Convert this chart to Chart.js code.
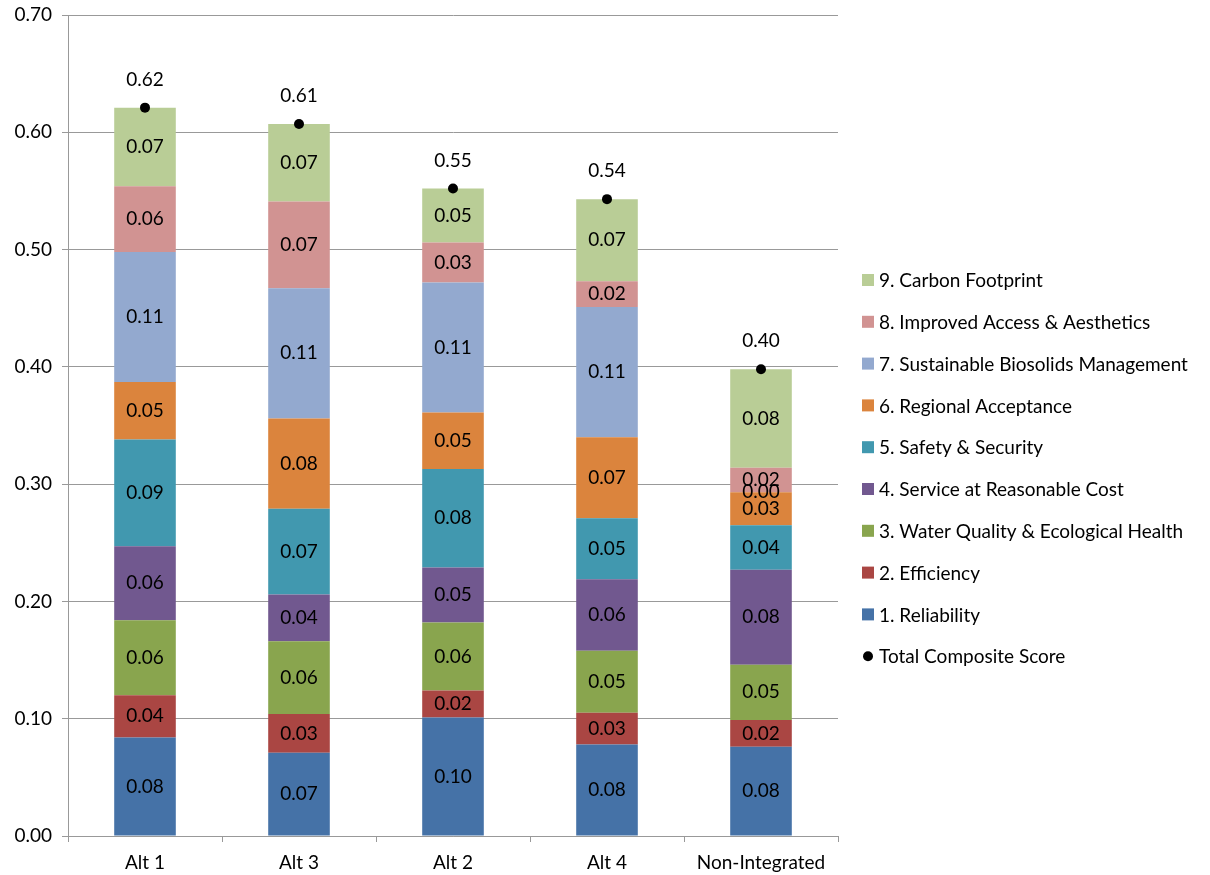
<!DOCTYPE html>
<html>
<head>
<meta charset="utf-8">
<script src="https://cdn.jsdelivr.net/npm/chart.js@4"></script>
<style>
  body { margin: 0; background: #fff; }
  canvas { display: block; }
</style>
</head>
<body>
<canvas id="scoreChart" width="1210" height="875"></canvas>
<script>
// categories and values
const alternatives = ["Alt 1", "Alt 3", "Alt 2", "Alt 4", "Non-Integrated"];

const reliability = [0.084, 0.071, 0.101, 0.078, 0.076];
const efficiency = [0.036, 0.033, 0.023, 0.027, 0.023];
const waterQuality = [0.064, 0.062, 0.058, 0.053, 0.047];
const serviceCost = [0.063, 0.040, 0.047, 0.061, 0.081];
const safetySecurity = [0.091, 0.073, 0.084, 0.052, 0.038];
const regionalAcceptance = [0.049, 0.077, 0.048, 0.069, 0.028];
const biosolids = [0.111, 0.111, 0.111, 0.111, 0.000];
const accessAesthetics = [0.056, 0.074, 0.034, 0.022, 0.021];
const carbonFootprint = [0.067, 0.066, 0.046, 0.070, 0.084];
const totalScore = [0.621, 0.607, 0.552, 0.543, 0.398];

const yTicks = [0, 0.1, 0.2, 0.3, 0.4, 0.5, 0.6, 0.7];

const FONT = "Lato, 'Open Sans', sans-serif";
const FONT_SIZE = 19;

function barSet(label, data, color) {
    return {
        type: "bar",
        label: label,
        data: data,
        backgroundColor: color,
        borderWidth: 0,
        stack: "criteria",
        order: 1,
        barPercentage: 0.4,
        categoryPercentage: 1.0
    };
}

// value labels inside bars + above the composite dots
const valueLabels = {
    id: "valueLabels",
    afterDatasetsDraw(chart) {
        const ctx = chart.ctx;
        ctx.save();
        ctx.font = FONT_SIZE + "px " + FONT;
        ctx.fillStyle = "#000";
        ctx.textAlign = "center";
        ctx.textBaseline = "middle";
        chart.data.datasets.forEach((ds, i) => {
            const meta = chart.getDatasetMeta(i);
            meta.data.forEach((el, j) => {
                const txt = ds.data[j].toFixed(2);
                if (ds.type === "bar") {
                    ctx.fillText(txt, el.x, (el.y + el.base) / 2);
                } else {
                    ctx.fillText(txt, el.x, el.y - 28);
                }
            });
        });
        ctx.restore();
    }
};

// legend drawn on the right, Excel style
const sideLegend = {
    id: "sideLegend",
    afterDraw(chart) {
        const ctx = chart.ctx;
        const x = chart.chartArea.right + 24;
        let y = 280;
        ctx.save();
        ctx.font = FONT_SIZE + "px " + FONT;
        ctx.textBaseline = "middle";
        ctx.textAlign = "left";
        const items = chart.data.datasets.filter(d => d.type === "bar").slice().reverse();
        items.forEach(d => {
            ctx.fillStyle = d.backgroundColor;
            ctx.fillRect(x, y - 6, 12, 12);
            ctx.fillStyle = "#000";
            ctx.fillText(d.label, x + 17, y + 1);
            y += 41.8;
        });
        const tot = chart.data.datasets.find(d => d.type === "line");
        ctx.fillStyle = "#000";
        ctx.beginPath();
        ctx.arc(x + 6, y, 5, 0, Math.PI * 2);
        ctx.fill();
        ctx.fillText(tot.label, x + 17, y + 1);
        ctx.restore();
    }
};

new Chart(document.getElementById("scoreChart"), {
    data: {
        labels: alternatives,
        datasets: [
            {
                type: "line",
                label: "Total Composite Score",
                data: totalScore,
                showLine: false,
                pointRadius: 5,
                pointBackgroundColor: "#000",
                pointBorderWidth: 0,
                stack: "total",
                order: 0
            },
            barSet("1. Reliability", reliability, "#4572A7"),
            barSet("2. Efficiency", efficiency, "#AA4643"),
            barSet("3. Water Quality & Ecological Health", waterQuality, "#89A54E"),
            barSet("4. Service at Reasonable Cost", serviceCost, "#71588F"),
            barSet("5. Safety & Security", safetySecurity, "#4198AF"),
            barSet("6. Regional Acceptance", regionalAcceptance, "#DB843D"),
            barSet("7. Sustainable Biosolids Management", biosolids, "#93A9CF"),
            barSet("8. Improved Access & Aesthetics", accessAesthetics, "#D19392"),
            barSet("9. Carbon Footprint", carbonFootprint, "#B9CD96")
        ]
    },
    options: {
        responsive: false,
        animation: false,
        layout: { padding: { left: 0, right: 372, top: 15, bottom: 0 } },
        plugins: {
            legend: { display: false },
            tooltip: { enabled: false }
        },
        scales: {
            x: {
                stacked: true,
                grid: {
                    offset: true,
                    drawOnChartArea: false,
                    drawTicks: true,
                    tickLength: 6,
                    color: "#999"
                },
                border: { color: "#999" },
                ticks: {
                    color: "#000",
                    padding: 9,
                    font: { family: FONT, size: FONT_SIZE }
                },
                afterFit: s => { s.height = 39; }
            },
            y: {
                stacked: true,
                min: 0,
                max: 0.7,
                afterBuildTicks: s => { s.ticks = yTicks.map(v => ({ value: v })); },
                grid: { color: "#999", tickLength: 6 },
                border: { color: "#999" },
                ticks: {
                    color: "#000",
                    padding: 10,
                    font: { family: FONT, size: FONT_SIZE }
                    ,
                    callback: v => Number(v).toFixed(2)
                },
                afterFit: s => { s.width = 68; s.paddingTop = 0; }
            }
        }
    },
    plugins: [valueLabels, sideLegend]
});
</script>
</body>
</html>
